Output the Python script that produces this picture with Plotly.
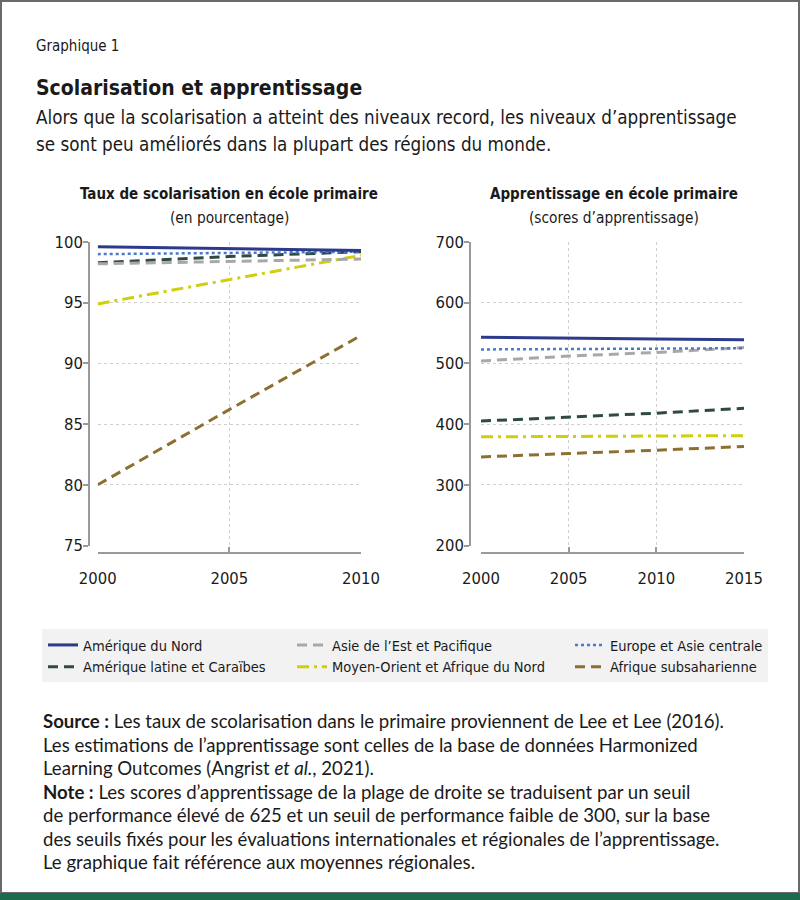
import plotly.graph_objects as go

# ---------------- data ----------------
years_enrol = [2000, 2005, 2010]
years_learn = [2000, 2005, 2010, 2015]

regions = [
    "Amérique du Nord",
    "Amérique latine et Caraïbes",
    "Asie de l’Est et Pacifique",
    "Moyen-Orient et Afrique du Nord",
    "Europe et Asie centrale",
    "Afrique subsaharienne",
]

enrol_na = [99.6, 99.45, 99.3]
enrol_lac = [98.3, 98.8, 99.2]
enrol_eap = [98.2, 98.4, 98.6]
enrol_mena = [94.9, 96.9, 98.9]
enrol_eca = [99.0, 99.1, 99.2]
enrol_ssa = [80.0, 86.2, 92.3]

learn_na = [543, 541, 540, 539]
learn_lac = [405, 411, 418, 426]
learn_eap = [504, 512, 518, 526]
learn_mena = [379, 380, 381, 381]
learn_eca = [523, 524, 524, 525]
learn_ssa = [346, 351, 357, 363]

yticks_enrol = [75, 80, 85, 90, 95, 100]
yticks_learn = [200, 300, 400, 500, 600, 700]

# ---------------- styles ----------------
W, H = 800, 900
def px(x):
    return x / W
def py(y):
    return 1 - y / H

NARROW = "DejaVu Sans Condensed, DejaVu Sans, sans-serif"
BODY = "Lato, Open Sans, Liberation Sans, sans-serif"

styles = {
    "Amérique du Nord": dict(color="#2d3a8c", dash="solid", width=3, legend="legend"),
    "Amérique latine et Caraïbes": dict(color="#2f4a44", dash="10px,6px", width=3, legend="legend"),
    "Asie de l’Est et Pacifique": dict(color="#a8a8a8", dash="10px,6px", width=3, legend="legend2"),
    "Moyen-Orient et Afrique du Nord": dict(color="#cfcf0e", dash="12px,5px,3px,5px", width=3, legend="legend2"),
    "Europe et Asie centrale": dict(color="#4a78cc", dash="dot", width=2.5, legend="legend3"),
    "Afrique subsaharienne": dict(color="#8c7030", dash="10px,6px", width=3, legend="legend3"),
}

enrol = {
    regions[0]: enrol_na, regions[1]: enrol_lac, regions[2]: enrol_eap,
    regions[3]: enrol_mena, regions[4]: enrol_eca, regions[5]: enrol_ssa,
}
learn = {
    regions[0]: learn_na, regions[1]: learn_lac, regions[2]: learn_eap,
    regions[3]: learn_mena, regions[4]: learn_eca, regions[5]: learn_ssa,
}

fig = go.Figure()

draw_order = [regions[5], regions[3], regions[1], regions[2], regions[4], regions[0]]
legend_rank = {r: i for i, r in enumerate(regions)}
for r in draw_order:
    s = styles[r]
    line = dict(color=s["color"], dash=s["dash"], width=s["width"])
    fig.add_trace(go.Scatter(
        x=years_enrol, y=enrol[r], mode="lines", name=r, line=line,
        xaxis="x", yaxis="y", legendgroup=r, legend=s["legend"],
        legendrank=legend_rank[r], showlegend=True,
    ))
    fig.add_trace(go.Scatter(
        x=years_learn, y=learn[r], mode="lines", name=r, line=line,
        xaxis="x2", yaxis="y2", legendgroup=r, legend=s["legend"],
        showlegend=False,
    ))

axis_common = dict(
    showline=True, linecolor="#9a9a9a", linewidth=1.5,
    showgrid=True, gridcolor="#cfcfcf", griddash="dot", gridwidth=1,
    zeroline=False, tickcolor="#9a9a9a", ticklen=5, tickwidth=1.5,
    tickfont=dict(family=NARROW, size=16.5, color="#1a1a1a"),
    automargin=False,
)

ydom = [py(545.5), py(242)]
fig.update_layout(
    width=W, height=H, autosize=False,
    margin=dict(l=0, r=0, t=0, b=0, pad=0),
    paper_bgcolor="white", plot_bgcolor="white",
    xaxis=dict(domain=[px(97.7), px(361)], range=[2000, 2010], anchor="free",
               position=py(553), tickvals=years_enrol, ticks="inside",
               ticklabelstandoff=10, **axis_common),
    yaxis=dict(domain=ydom, range=[75, 100], anchor="free", position=px(89),
               tickvals=yticks_enrol, ticks="outside", ticklabelstandoff=-3, **axis_common),
    xaxis2=dict(domain=[px(481), px(744)], range=[2000, 2015], anchor="free",
                position=py(553), tickvals=years_learn, ticks="inside",
                ticklabelstandoff=10, **axis_common),
    yaxis2=dict(domain=ydom, range=[200, 700], anchor="free", position=px(470),
                tickvals=yticks_learn, ticks="outside", ticklabelstandoff=-3, **axis_common),
    showlegend=True,
)

leg_common = dict(
    orientation="v", yanchor="top", xanchor="left",
    bgcolor="rgba(0,0,0,0)", itemwidth=30, tracegroupgap=0,
    font=dict(family=NARROW, size=14.5, color="#1a1a1a"),
    traceorder="normal", itemclick=False, itemdoubleclick=False,
)
fig.update_layout(
    legend=dict(x=px(43), y=py(629), **leg_common),
    legend2=dict(x=px(292), y=py(629), **leg_common),
    legend3=dict(x=px(570), y=py(629), **leg_common),
)

shapes = [
    dict(type="rect", xref="paper", yref="paper", x0=px(42), x1=px(768),
         y0=py(682), y1=py(629), fillcolor="#f2f2f2", line=dict(width=0), layer="below"),
    dict(type="rect", xref="paper", yref="paper", x0=px(1), x1=px(799),
         y0=py(893), y1=py(1), fillcolor="rgba(0,0,0,0)", line=dict(color="#6a6a6a", width=2)),
    dict(type="rect", xref="paper", yref="paper", x0=0, x1=1,
         y0=0, y1=py(893), fillcolor="#1b6b4c", line=dict(width=0)),
]
fig.update_layout(shapes=shapes)

ann = []
def text(x, y, s, size, family, anchor="left", color="#1a1a1a"):
    ann.append(dict(x=px(x), y=py(y), xref="paper", yref="paper", text=s,
                    showarrow=False, xanchor=anchor, yanchor="middle",
                    font=dict(family=family, size=size, color=color)))

text(34, 46, "Graphique 1", 15, NARROW)
text(34, 88, "<b>Scolarisation et apprentissage</b>", 21, NARROW)
text(34, 117, "Alors que la scolarisation a atteint des niveaux record, les niveaux d’apprentissage", 18.7, NARROW)
text(34, 145, "se sont peu améliorés dans la plupart des régions du monde.", 18.7, NARROW)

text(229, 194, "<b>Taux de scolarisation en école primaire</b>", 15, NARROW, "center")
text(229, 218, "(en pourcentage)", 15.3, NARROW, "center")
text(614, 194, "<b>Apprentissage en école primaire</b>", 15, NARROW, "center")
text(614, 218, "(scores d’apprentissage)", 15.3, NARROW, "center")

foot = [
    "<b>Source :</b> Les taux de scolarisation dans le primaire proviennent de Lee et Lee (2016).",
    "Les estimations de l’apprentissage sont celles de la base de données Harmonized",
    "Learning Outcomes (Angrist <i>et al.</i>, 2021).",
    "<b>Note :</b> Les scores d’apprentissage de la plage de droite se traduisent par un seuil",
    "de performance élevé de 625 et un seuil de performance faible de 300, sur la base",
    "des seuils fixés pour les évaluations internationales et régionales de l’apprentissage.",
    "Le graphique fait référence aux moyennes régionales.",
]
foot_y = [721, 745, 768, 792, 815, 839, 862]
for s, y in zip(foot, foot_y):
    text(41, y, s, 18.6, BODY)

fig.update_layout(annotations=ann)

fig.write_html("out.html",
               config={"displayModeBar": False},
               post_script="document.body.style.margin='0';document.body.style.overflow='hidden';")
